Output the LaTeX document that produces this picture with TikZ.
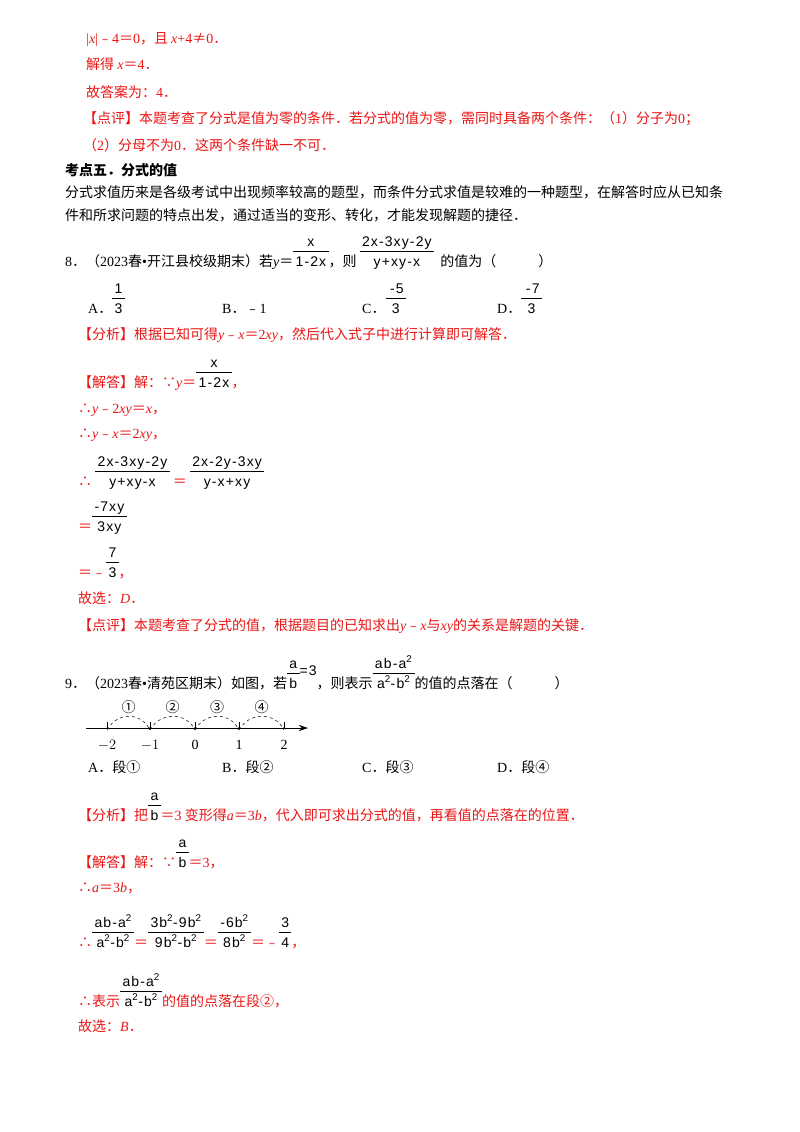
\documentclass[tikz,border=0pt]{standalone}
\usetikzlibrary{arrows.meta,calc}
\usepackage{fontspec}
\setmainfont{Noto Sans CJK SC}
\newfontfamily\tm{Liberation Serif}
\newfontfamily\fs[LetterSpace=8]{Liberation Sans}
\newcommand\vv[1]{{\tm\itshape #1}}
\newcommand\nn[1]{{\tm #1}}
\newcommand\myfr[2]{{\color{black}\fs\fontsize{14}{15}\selectfont\begin{tabular}[b]{@{\,}c@{\,}}#1\\[0pt]\hline\rule{0pt}{15pt}#2\end{tabular}}}
\definecolor{rd}{RGB}{235,20,20}
\begin{document}
\begin{tikzpicture}[x=1pt,y=-1pt,
  every node/.style={inner sep=0pt,anchor=base west,font=\fontsize{14}{16}\selectfont},
  rl/.style={text=rd},
  arc/.style={dashed,line width=0.5pt}]
\useasboundingbox (0,0) rectangle (800,1132);
\node[rl] (l1) at (86,44) {\nn{|}\vv{x}\nn{|}﹣\nn{4}＝\nn{0}，且 \vv{x}\nn{+4}≠\nn{0}．};
\node[rl] (l2) at (86,70) {解得 \vv{x}＝\nn{4}．};
\node[rl] (l3) at (86,97) {故答案为：\nn{4}．};
\node[rl] (l4) at (83,123) {【点评】本题考查了分式是值为零的条件．若分式的值为零，需同时具备两个条件：（\nn{1}）分子为\nn{0}；};
\node[rl] (l5) at (83,150) {（\nn{2}）分母不为\nn{0}．这两个条件缺一不可．};
\node[font=\fontsize{14}{16}\selectfont\bfseries] (l6) at (65,175) {考点五．分式的值};
\node (l7) at (65,197) {分式求值历来是各级考试中出现频率较高的题型，而条件分式求值是较难的一种题型，在解答时应从已知条};
\node (l8) at (65,220) {件和所求问题的特点出发，通过适当的变形、转化，才能发现解题的捷径．};
\node (q8) at (65,266) {\nn{8}．（\nn{2023}春\nn{•}开江县校级期末）若\vv{y}＝\myfr{x}{1-2x}，则 \myfr{2x-3xy-2y}{y+xy-x}\ \ 的值为（\hspace{3em}）};
\node (a8) at (88,313) {\nn{A}．\myfr{1}{3}};
\node (b8) at (222,313) {\nn{B}．﹣\nn{1}};
\node (c8) at (362,313) {\nn{C}．\myfr{\,-5}{3}};
\node (d8) at (497,313) {\nn{D}．\myfr{\,-7}{3}};
\node[rl] (f8) at (78,339) {【分析】根据已知可得\vv{y}﹣\vv{x}＝\nn{2}\vv{xy}，然后代入式子中进行计算即可解答．};
\node[rl] (s1) at (78,387) {【解答】解：∵\vv{y}＝\myfr{x}{1-2x}，};
\node[rl] (s2) at (78,413) {∴\vv{y}﹣\nn{2}\vv{xy}＝\vv{x}，};
\node[rl] (s3) at (78,438) {∴\vv{y}﹣\vv{x}＝\nn{2}\vv{xy}，};
\node[rl] (s4) at (78,486) {∴ \myfr{2x-3xy-2y}{y+xy-x} ＝ \myfr{2x-2y-3xy}{y-x+xy}};
\node[rl] (s5) at (78,531) {＝\myfr{-7xy}{3xy}};
\node[rl] (s6) at (78,577) {＝﹣\myfr{7}{3}，};
\node[rl] (s7) at (78,603) {故选：\vv{D}．};
\node[rl] (p8) at (78,630) {【点评】本题考查了分式的值，根据题目的已知求出\vv{y}﹣\vv{x}与\vv{xy}的关系是解题的关键．};
\node (q9) at (65,688) {\nn{9}．（\nn{2023}春\nn{•}清苑区期末）如图，若\myfr{a}{b}\raisebox{13pt}{\fs\fontsize{14}{15}\selectfont =3}，则表示\myfr{ab-a\textsuperscript{2}}{a\textsuperscript{2}-b\textsuperscript{2}}的值的点落在（\hspace{3em}）};
% number line
\coordinate (nl0) at (86,728);
\coordinate (nl1) at (308,728);
\draw[line width=0.8pt,-{Stealth[length=9pt,width=6pt]}] (nl0) -- (nl1);
\foreach \i/\x/\t in {m2/107/$-2$,m1/150/$-1$,z/195/0,p1/239/1,p2/284/2}{
  \coordinate (t\i) at (\x,728);
  \draw[line width=0.5pt] (t\i) -- ++(0,-6);
  \node[anchor=base,font=\fontsize{14}{16}\selectfont\tm] (lb\i) at (\x,749) {\t};
}
\foreach \a/\b/\c in {m2/m1/①,m1/z/②,z/p1/③,p1/p2/④}{
  \draw[arc,->,>={Stealth[length=3pt]}] ([yshift=-2pt]t\a) .. controls ([shift={(10,-16)}]t\a) and ([shift={(-10,-16)}]t\b) .. ([yshift=-2pt]t\b);
  \node[anchor=base,font=\fontsize{14}{16}\selectfont] (c\a) at ($(t\a)!0.5!(t\b)+(0,-16)$) {\c};
}
\node (a9) at (88,772) {\nn{A}．段①};
\node (b9) at (222,772) {\nn{B}．段②};
\node (c9) at (362,772) {\nn{C}．段③};
\node (d9) at (497,772) {\nn{D}．段④};
\node[rl] (f9) at (78,820) {【分析】把\myfr{a}{b}＝\nn{3} 变形得\vv{a}＝\nn{3}\vv{b}，代入即可求出分式的值，再看值的点落在的位置．};
\node[rl] (t1) at (78,867) {【解答】解：∵\myfr{a}{b}＝\nn{3}，};
\node[rl] (t2) at (78,892) {∴\vv{a}＝\nn{3}\vv{b}，};
\node[rl] (t3) at (78,947) {∴\myfr{ab-a\textsuperscript{2}}{a\textsuperscript{2}-b\textsuperscript{2}}＝\myfr{3b\textsuperscript{2}-9b\textsuperscript{2}}{9b\textsuperscript{2}-b\textsuperscript{2}}＝\myfr{-6b\textsuperscript{2}}{8b\textsuperscript{2}}＝﹣\myfr{3}{4}，};
\node[rl] (t4) at (78,1006) {∴表示\myfr{ab-a\textsuperscript{2}}{a\textsuperscript{2}-b\textsuperscript{2}}的值的点落在段②，};
\node[rl] (t5) at (78,1031) {故选：\vv{B}．};
\end{tikzpicture}
\end{document}
